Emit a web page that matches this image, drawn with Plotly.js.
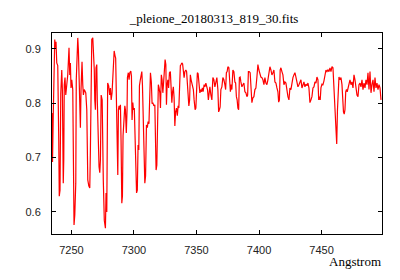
<!DOCTYPE html>
<html>
<head>
<meta charset="utf-8">
<script src="https://cdn.plot.ly/plotly-3.0.1.min.js"></script>
<style>html,body{margin:0;padding:0;background:#fff;}#chart{width:400px;height:280px;}</style>
</head>
<body>
<div id="chart"></div>
<script>
const chartTitle = "_pleione_20180313_819_30.fits";
const xLabel = "Angstrom";
const xTicks = [7250, 7300, 7350, 7400, 7450];
const yTicks = [0.6, 0.7, 0.8, 0.9];

const wavelength = [
7234.5,7234.9,7235.5,7235.9,7236.7,7237.2,7237.7,7238.3,7239.1,7239.9,7240.3,7240.9,7241.5,7242.3,7242.8,7243.5,7243.9,7244.3,7244.9,7245.5,
7246.0,7246.7,7247.1,7247.6,7248.1,7248.7,7249.2,7249.7,7250.3,7251.1,7252.1,7252.7,7253.5,7253.9,7254.5,7255.1,7255.6,7256.3,7256.7,7257.2,
7257.7,7258.5,7259.1,7259.6,7260.3,7260.9,7261.5,7262.3,7263.1,7263.9,7264.7,7265.2,7265.7,7266.3,7267.1,7267.6,7268.3,7268.7,7269.2,7269.7,
7270.3,7270.7,7271.5,7272.1,7272.7,7273.2,7273.8,7274.6,7275.5,7276.3,7277.2,7277.7,7278.3,7278.8,7279.0,7279.8,7280.6,7281.2,7281.8,7282.5,
7283.0,7283.6,7284.2,7284.9,7285.4,7286.0,7286.7,7287.1,7287.6,7288.1,7288.7,7289.2,7289.7,7290.3,7290.8,7291.3,7291.9,7292.7,7293.2,7293.9,
7294.5,7294.8,7295.5,7296.1,7296.7,7297.5,7298.0,7298.5,7299.1,7299.6,7300.3,7300.9,7301.5,7302.1,7302.7,7303.3,7303.9,7304.4,7305.1,7305.7,
7306.3,7306.8,7307.5,7308.1,7308.7,7309.3,7310.0,7310.7,7311.3,7312.0,7312.7,7313.2,7313.9,7314.5,7315.1,7315.9,7316.7,7317.2,7317.7,7318.3,
7318.8,7319.5,7320.1,7320.7,7321.2,7321.9,7322.5,7323.1,7323.6,7324.3,7324.9,7325.5,7326.0,7326.5,7327.1,7327.7,7328.4,7329.1,7329.7,7330.3,
7330.9,7331.5,7332.1,7332.7,7333.3,7334.0,7334.7,7335.3,7335.9,7336.5,7337.1,7337.7,7338.3,7338.9,7339.5,7340.1,7340.7,7341.5,7342.1,7342.7,
7343.3,7343.9,7344.5,7345.1,7345.7,7346.3,7346.9,7347.5,7348.1,7348.9,7349.5,7350.1,7350.7,7351.3,7352.1,7352.7,7353.5,7354.1,7354.7,7355.3,
7356.1,7356.7,7357.5,7358.3,7358.8,7359.5,7360.1,7360.7,7361.5,7362.3,7363.1,7363.9,7364.7,7365.5,7366.3,7367.1,7367.7,7368.3,7368.9,7369.5,
7370.3,7371.1,7371.9,7372.7,7373.3,7373.9,7374.5,7375.1,7375.9,7376.5,7377.1,7377.7,7378.3,7379.1,7379.9,7380.7,7381.3,7381.9,7382.5,7383.1,
7383.7,7384.3,7384.9,7385.5,7386.3,7387.1,7387.9,7388.7,7389.5,7390.3,7390.9,7391.5,7392.1,7392.9,7393.5,7394.3,7395.1,7395.9,7396.7,7397.5,
7398.3,7399.1,7399.9,7400.7,7401.5,7402.3,7403.1,7403.9,7404.7,7405.5,7406.3,7407.1,7407.9,7408.7,7409.5,7410.3,7411.1,7411.9,7412.7,7413.5,
7414.3,7415.1,7415.7,7416.3,7416.9,7417.5,7418.3,7419.1,7419.9,7420.7,7421.5,7422.3,7423.1,7423.9,7424.7,7425.5,7426.3,7427.1,7427.9,7428.7,
7429.5,7430.3,7431.1,7431.9,7432.7,7433.5,7434.3,7435.1,7435.9,7436.7,7437.5,7438.3,7439.1,7439.9,7440.7,7441.5,7442.3,7443.1,7443.9,7444.7,
7445.5,7446.3,7447.1,7447.7,7448.3,7448.9,7449.5,7450.3,7451.1,7451.9,7452.7,7453.5,7454.3,7455.1,7455.9,7456.7,7457.5,7458.3,7459.1,7459.7,
7460.3,7460.9,7461.6,7462.1,7462.7,7463.3,7463.9,7464.7,7465.5,7466.3,7466.9,7467.5,7468.1,7468.7,7469.3,7469.9,7470.5,7471.1,7471.9,7472.7,
7473.5,7474.3,7475.1,7475.9,7476.7,7477.5,7478.3,7479.1,7479.9,7480.7,7481.5,7482.3,7483.1,7483.9,7484.7,7485.5,7486.3,7487.1,7487.9,7488.7,
7489.5,7490.3,7491.1,7491.9,7492.7,7493.5,7494.3,7495.1,7495.9,7496.7,7497.5
];

const flux = [
0.782,0.692,0.778,0.869,0.917,0.902,0.913,0.874,0.869,0.732,0.629,0.640,0.817,0.861,0.825,0.653,0.696,0.834,0.847,0.815,
0.834,0.843,0.852,0.880,0.902,0.852,0.874,0.828,0.843,0.825,0.576,0.594,0.653,0.843,0.917,0.920,0.898,0.806,0.755,0.755,
0.825,0.876,0.834,0.815,0.825,0.821,0.819,0.788,0.659,0.648,0.644,0.714,0.880,0.917,0.920,0.898,0.861,0.806,0.788,0.865,
0.871,0.806,0.696,0.683,0.672,0.696,0.815,0.806,0.659,0.585,0.570,0.635,0.600,0.806,0.837,0.832,0.815,0.828,0.806,0.819,
0.852,0.880,0.896,0.887,0.883,0.806,0.714,0.668,0.788,0.795,0.788,0.797,0.732,0.616,0.629,0.740,0.769,0.795,0.788,0.745,
0.788,0.847,0.856,0.843,0.856,0.859,0.850,0.769,0.801,0.788,0.791,0.732,0.648,0.635,0.640,0.723,0.714,0.832,0.843,0.850,
0.858,0.834,0.745,0.727,0.653,0.666,0.760,0.755,0.766,0.762,0.832,0.856,0.839,0.799,0.801,0.795,0.797,0.703,0.677,0.686,
0.782,0.834,0.828,0.819,0.791,0.852,0.843,0.819,0.834,0.876,0.880,0.871,0.797,0.834,0.843,0.828,0.856,0.858,0.812,0.801,
0.821,0.830,0.810,0.758,0.784,0.791,0.777,0.795,0.791,0.861,0.869,0.871,0.874,0.872,0.852,0.847,0.858,0.861,0.858,0.837,
0.825,0.795,0.806,0.852,0.843,0.835,0.834,0.825,0.806,0.788,0.791,0.837,0.856,0.854,0.825,0.819,0.825,0.821,0.828,0.821,
0.834,0.830,0.837,0.832,0.825,0.806,0.821,0.830,0.815,0.806,0.847,0.843,0.830,0.843,0.847,0.825,0.784,0.788,0.793,0.825,
0.830,0.847,0.843,0.834,0.825,0.856,0.858,0.867,0.865,0.843,0.821,0.834,0.825,0.861,0.858,0.839,0.837,0.812,0.806,0.791,
0.788,0.847,0.848,0.839,0.830,0.834,0.837,0.821,0.819,0.812,0.815,0.858,0.858,0.856,0.819,0.801,0.810,0.812,0.825,0.828,
0.848,0.871,0.861,0.852,0.848,0.847,0.843,0.834,0.847,0.837,0.834,0.843,0.861,0.867,0.861,0.852,0.856,0.861,0.839,0.837,
0.828,0.821,0.802,0.806,0.861,0.865,0.858,0.852,0.834,0.839,0.837,0.821,0.812,0.806,0.828,0.825,0.841,0.847,0.852,0.856,
0.848,0.834,0.830,0.834,0.841,0.843,0.828,0.834,0.839,0.830,0.835,0.832,0.837,0.828,0.801,0.806,0.812,0.828,0.830,0.839,
0.837,0.848,0.843,0.806,0.812,0.806,0.828,0.835,0.834,0.841,0.852,0.861,0.858,0.861,0.858,0.865,0.858,0.867,0.865,0.834,
0.806,0.784,0.732,0.725,0.788,0.834,0.848,0.843,0.847,0.834,0.801,0.784,0.780,0.788,0.821,0.825,0.821,0.828,0.839,0.843,
0.834,0.839,0.828,0.852,0.843,0.825,0.815,0.812,0.834,0.837,0.830,0.843,0.825,0.837,0.828,0.843,0.834,0.856,0.825,0.858,
0.819,0.834,0.843,0.821,0.847,0.828,0.837,0.825,0.834,0.828,0.806
];

const tickFont = {family: "Liberation Sans, Arial, sans-serif", size: 11, color: "#222"};
const serifFont = {family: "Liberation Serif, Times New Roman, serif", size: 13, color: "#000"};

const trace = {
  x: wavelength,
  y: flux,
  type: "scatter",
  mode: "lines",
  line: {color: "#ff0000", width: 1.2},
  hoverinfo: "skip"
};

const layout = {
  width: 400,
  height: 280,
  margin: {l: 52, r: 18, t: 33, b: 46, pad: 0},
  paper_bgcolor: "#fff",
  plot_bgcolor: "#fff",
  showlegend: false,
  title: {text: chartTitle, font: serifFont, x: 0.535, xanchor: "center", y: 0.935, yanchor: "middle"},
  xaxis: {
    range: [7234.5, 7498.3],
    tickvals: xTicks,
    ticktext: xTicks.map(String),
    ticks: "inside",
    ticklen: 4,
    tickcolor: "#000",
    showline: true,
    linecolor: "#000",
    linewidth: 1,
    mirror: "ticks",
    showgrid: false,
    zeroline: false,
    tickfont: tickFont,
    ticklabelstandoff: 6
  },
  yaxis: {
    range: [0.5595, 0.929],
    tickvals: yTicks,
    ticktext: yTicks.map(v => v.toFixed(1)),
    ticks: "inside",
    ticklen: 4,
    tickcolor: "#000",
    showline: true,
    linecolor: "#000",
    linewidth: 1,
    mirror: "ticks",
    showgrid: false,
    zeroline: false,
    tickfont: tickFont,
    ticklabelstandoff: 8
  },
  annotations: [{
    text: xLabel,
    xref: "paper", yref: "paper",
    x: 1.003, y: -0.09,
    xanchor: "right", yanchor: "top",
    showarrow: false,
    font: serifFont
  }]
};

Plotly.newPlot("chart", [trace], layout, {staticPlot: true, displayModeBar: false});
</script>
</body>
</html>
